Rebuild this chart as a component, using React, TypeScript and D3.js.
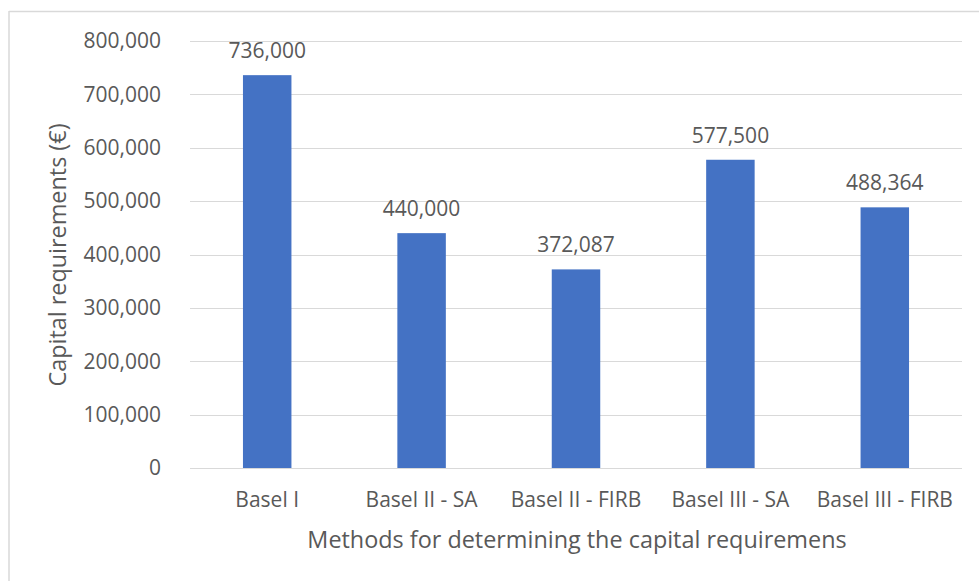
import React from "react";
import * as d3 from "d3";

const categories = ["Basel I", "Basel II - SA", "Basel II - FIRB", "Basel III - SA", "Basel III - FIRB"];
const values = [736000, 440000, 372087, 577500, 488364];
const yTicks = [0, 100000, 200000, 300000, 400000, 500000, 600000, 700000, 800000];

const W = 979;
const H = 581;
const FONT = "'Open Sans', 'Noto Sans', sans-serif";
const TEXT = "#595959";

export default function App() {
  const x = d3
    .scaleBand<string>()
    .domain(categories)
    .range([190, 962])
    .paddingInner(0.686)
    .paddingOuter(0.343);
  const y = d3.scaleLinear().domain([0, 800000]).range([468, 41]);
  const fmt = d3.format(",");

  return (
    <svg
      width={W}
      height={H}
      style={{ position: "absolute", left: 0, top: 0, background: "#fff" }}
      fontFamily={FONT}
    >
      <line x1={9} x2={W} y1={11.5} y2={11.5} stroke="#D9D9D9" strokeWidth={1.5} />
      <line x1={9} x2={9} y1={11} y2={H} stroke="#D9D9D9" strokeWidth={1.5} />
      {yTicks.map((t) => (
        <g key={t}>
          <line x1={190} x2={962} y1={Math.round(y(t)) + 0.5} y2={Math.round(y(t)) + 0.5} stroke="#D9D9D9" strokeWidth={1} />
          <text x={161} y={y(t)} dy="0.35em" textAnchor="end" fontSize={21} fill={TEXT}>
            {fmt(t)}
          </text>
        </g>
      ))}
      {categories.map((c, i) => (
        <g key={c}>
          <rect x={x(c)} y={y(values[i])} width={x.bandwidth()} height={y(0) - y(values[i])} fill="#4472C4" />
          <text x={(x(c) as number) + x.bandwidth() / 2} y={y(values[i]) - 17} textAnchor="middle" fontSize={21} fill={TEXT}>
            {fmt(values[i])}
          </text>
          <text x={(x(c) as number) + x.bandwidth() / 2} y={507} textAnchor="middle" fontSize={21} fill={TEXT}>
            {c}
          </text>
        </g>
      ))}
      <line x1={190} x2={962} y1={468.5} y2={468.5} stroke="#D9D9D9" strokeWidth={1} />
      <text x={577} y={548} textAnchor="middle" fontSize={23.4} fill={TEXT}>
        Methods for determining the capital requiremens
      </text>
      <text transform={`translate(66,255) rotate(-90)`} textAnchor="middle" fontSize={23.4} fill={TEXT}>
        Capital requirements (€)
      </text>
    </svg>
  );
}
